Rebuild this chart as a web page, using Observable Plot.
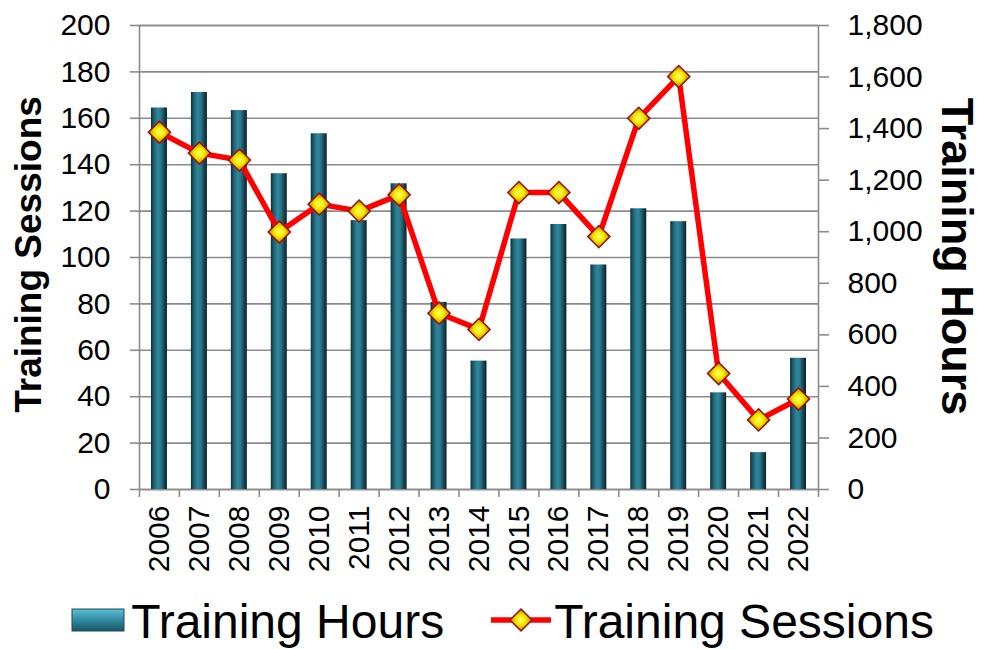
<!DOCTYPE html>
<html><head><meta charset="utf-8">
<script src="https://cdn.jsdelivr.net/npm/d3@7"></script>
<script src="https://cdn.jsdelivr.net/npm/@observablehq/plot@0.6"></script>
<style>
body{margin:0;background:#fff;font-family:"Liberation Sans",Arial,sans-serif;}
#chart svg{display:block;}
#legend{display:flex;justify-content:center;align-items:center;height:59px;font-size:48px;padding-left:22px;color:#000;}
#legend .item{display:flex;align-items:center;}
#legend .item + .item{margin-left:46px;}
#legend svg{display:block;}
#legend span{position:relative;top:2px;}
</style></head><body>
<div id="chart"></div>
<div id="legend"></div>
<script>
const years = [2006,2007,2008,2009,2010,2011,2012,2013,2014,2015,2016,2017,2018,2019,2020,2021,2022];
const trainingHours = [1480,1540,1470,1225,1380,1043,1186,726,498,972,1028,871,1089,1039,375,143,509];
const trainingSessions = [154,145,142,111,123,120,127,76,69,128,128,109,160,178,50,30,39];
const sessionTicks = [0,20,40,60,80,100,120,140,160,180,200];
const hourTicks = [0,200,400,600,800,1000,1200,1400,1600,1800];

const sessionMax = sessionTicks[sessionTicks.length - 1];
const hourMax = hourTicks[hourTicks.length - 1];
const k = hourMax / sessionMax; // hours per session-axis unit

const data = years.map((year, i) => ({year, hours: trainingHours[i], sessions: trainingSessions[i]}));
const gray = "#8c8c8c";
const fmt = d3.format(",");

const svg = Plot.plot({
  width: 983,
  height: 590,
  marginLeft: 139,
  marginRight: 165,
  marginTop: 25,
  marginBottom: 101,
  style: {fontFamily: "'Liberation Sans', Arial, sans-serif", fontSize: "30px", background: "white", color: "black"},
  x: {type: "band", domain: years, paddingInner: 0.6, paddingOuter: 0.3, round: false, label: null},
  y: {domain: [0, sessionMax], label: null},
  marks: [
    Plot.gridY(sessionTicks, {stroke: gray, strokeOpacity: 1, strokeWidth: 1.6}),
    Plot.frame({stroke: gray, strokeWidth: 1.6}),
    Plot.axisY(sessionTicks, {anchor: "left", tickSize: 9, tickPadding: 20, stroke: gray, strokeWidth: 1.6, fill: "black", fontSize: 30, label: null}),
    Plot.axisY(hourTicks.map(h => h / k), {anchor: "right", tickSize: 10, tickPadding: 19, stroke: gray, strokeWidth: 1.6, fill: "black", fontSize: 30, tickFormat: d => fmt(Math.round(d * k)), label: null}),
    Plot.axisX({tickSize: 0, tickPadding: 16, tickRotate: -90, fontSize: 30, fill: "black", tickFormat: d => String(d), label: null}),
    Plot.axisX({tickSize: 8, tickFormat: () => "", dx: -20, stroke: gray, strokeWidth: 1.6, label: null}),
    Plot.axisX([years[years.length - 1]], {tickSize: 8, tickFormat: () => "", dx: 20, stroke: gray, strokeWidth: 1.6, label: null}),
    Plot.barY(data, {x: "year", y: d => d.hours / k, fill: "url(#barGrad)"}),
    Plot.line(data, {x: "year", y: "sessions", stroke: "#ff0000", strokeWidth: 5.5, strokeLinejoin: "round"}),
    Plot.dot(data, {x: "year", y: "sessions", symbol: "diamond2", r: 10, fill: "url(#dotGrad)", stroke: "#a01010", strokeWidth: 1.5}),
    Plot.text(["Training Sessions"], {text: d => d, frameAnchor: "left", textAnchor: "middle", lineAnchor: "middle", rotate: -90, dx: -110, dy: -3, fontSize: 37, fontWeight: "bold", fill: "black"}),
    Plot.text(["Training Hours"], {text: d => d, frameAnchor: "right", textAnchor: "middle", lineAnchor: "middle", rotate: 90, dx: 138, dy: -1, fontSize: 45, fontWeight: "bold", fill: "black"})
  ]
});

const defs = d3.select(svg).insert("defs", ":first-child");
const bg = defs.append("linearGradient").attr("id", "barGrad").attr("x1", 0).attr("x2", 1).attr("y1", 0).attr("y2", 0);
[[0, "#0d2f38"], [0.18, "#1c5f6f"], [0.42, "#2f879c"], [0.6, "#2a7a8d"], [0.85, "#173f4c"], [1, "#0a2129"]]
  .forEach(([o, c]) => bg.append("stop").attr("offset", o).attr("stop-color", c));
const dg = defs.append("radialGradient").attr("id", "dotGrad").attr("cx", 0.5).attr("cy", 0.5).attr("r", 0.5);
[[0, "#ffff66"], [0.45, "#f0ea00"], [0.8, "#c8a800"], [1, "#8a5a00"]]
  .forEach(([o, c]) => dg.append("stop").attr("offset", o).attr("stop-color", c));

document.getElementById("chart").appendChild(svg);

const legend = document.getElementById("legend");
legend.innerHTML = `
<div class="item">
  <svg width="54" height="24" viewBox="0 0 54 24">
    <defs><linearGradient id="lgBar" x1="0" x2="0" y1="0" y2="1">
      <stop offset="0" stop-color="#5cc0d6"/><stop offset="0.5" stop-color="#2f8aa0"/><stop offset="1" stop-color="#1a5566"/>
    </linearGradient></defs>
    <rect x="1" y="1" width="52" height="22" fill="url(#lgBar)" stroke="#1a4a56" stroke-width="1"/>
  </svg>
  <span style="margin-left:6px">Training Hours</span>
</div>
<div class="item">
  <svg width="62" height="26" viewBox="0 0 62 26">
    <defs><radialGradient id="lgDot" cx="0.5" cy="0.5" r="0.5">
      <stop offset="0" stop-color="#ffff66"/><stop offset="0.45" stop-color="#f0ea00"/><stop offset="0.8" stop-color="#c8a800"/><stop offset="1" stop-color="#8a5a00"/>
    </radialGradient></defs>
    <line x1="1" x2="61" y1="13" y2="13" stroke="#ff0000" stroke-width="5.5"/>
    <path d="M31,2 L42,13 L31,24 L20,13 Z" fill="url(#lgDot)" stroke="#a01010" stroke-width="1.5"/>
  </svg>
  <span style="margin-left:2px">Training Sessions</span>
</div>`;
</script>
</body></html>
